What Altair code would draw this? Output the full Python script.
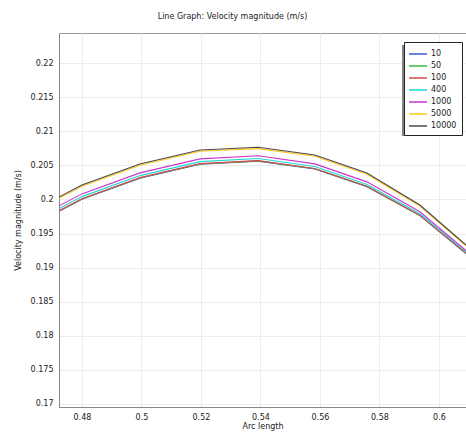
import altair as alt
import pandas as pd

# Arc-length sample positions along the cut line
arc = [0.4723, 0.48, 0.4995, 0.5197, 0.5392, 0.5583, 0.5758, 0.5936, 0.6091]

# Velocity magnitude (m/s) for each parameter value
v_10 = [0.19825, 0.20003, 0.20311, 0.20516, 0.20561, 0.20446, 0.20186, 0.19762, 0.19207]
v_50 = [0.19830, 0.20007, 0.20315, 0.20520, 0.20565, 0.20450, 0.20190, 0.19765, 0.19210]
v_100 = [0.19835, 0.20011, 0.20319, 0.20524, 0.20569, 0.20454, 0.20193, 0.19768, 0.19213]
v_400 = [0.19865, 0.20041, 0.20349, 0.20554, 0.20599, 0.20482, 0.20220, 0.19790, 0.19230]
v_1000 = [0.19905, 0.20081, 0.20389, 0.20594, 0.20639, 0.20521, 0.20257, 0.19818, 0.19251]
v_5000 = [0.20015, 0.20192, 0.20500, 0.20705, 0.20745, 0.20633, 0.20370, 0.19903, 0.19318]
v_10000 = [0.20035, 0.20211, 0.20519, 0.20724, 0.20764, 0.20651, 0.20387, 0.19918, 0.19331]

series_names = ["10", "50", "100", "400", "1000", "5000", "10000"]
series_values = [v_10, v_50, v_100, v_400, v_1000, v_5000, v_10000]
series_colors = ["#3a5ad8", "#3cb83c", "#d84a4a", "#1ed8d8", "#cc33cc", "#ffc61a", "#4a4a4a"]

x_ticks = [0.48, 0.50, 0.52, 0.54, 0.56, 0.58, 0.60]
y_ticks = [0.17, 0.175, 0.18, 0.185, 0.19, 0.195, 0.20, 0.205, 0.21, 0.215, 0.22]

rows = []
for order, (name, vals) in enumerate(zip(series_names, series_values)):
    for a, v in zip(arc, vals):
        rows.append({"arc": a, "vel": v, "series": name, "order": order})
df = pd.DataFrame(rows)

FONT = "DejaVu Sans"

x_enc = alt.X(
    "arc:Q",
    scale=alt.Scale(domain=[0.4723, 0.6091], nice=False, zero=False),
    axis=alt.Axis(values=x_ticks, format=".2~f", title="Arc length", ticks=False,
                  labelPadding=6, titlePadding=1),
)
y_enc = alt.Y(
    "vel:Q",
    scale=alt.Scale(domain=[0.16956, 0.2244], nice=False, zero=False),
    axis=alt.Axis(values=y_ticks, format=".3~f", title="Velocity magnitude (m/s)",
                  ticks=False, labelPadding=6, titlePadding=8),
)

lines = alt.Chart(df).mark_line(strokeWidth=1.1, clip=True).encode(
    x=x_enc,
    y=y_enc,
    color=alt.Color(
        "series:N",
        sort=series_names,
        scale=alt.Scale(domain=series_names, range=series_colors),
        legend=alt.Legend(
            title=None,
            orient="none",
            legendX=345,
            legendY=9,
            # long horizontal line swatch inside a short entry
            symbolType="M-1.5,0H1.5",
            symbolSize=144,
            symbolStrokeWidth=1.5,
            symbolOffset=2,
            rowPadding=1,
            labelFontSize=8,
            labelFont=FONT,
            labelColor="#222",
            padding=5,
            strokeColor="#222",
            fillColor="white",
            labelOffset=6,
        ),
    ),
    order=alt.Order("order:Q"),
)

# drop shadow behind the legend box
shadow = alt.Chart(pd.DataFrame({"k": [0]})).mark_rect(color="#777", opacity=0.9).encode(
    x=alt.value(343), x2=alt.value(400), y=alt.value(12), y2=alt.value(103)
)

chart = (
    alt.layer(shadow, lines)
    .properties(
        width=407,
        height=374,
        title=alt.TitleParams("Line Graph: Velocity magnitude (m/s)", fontSize=8,
                              font=FONT, fontWeight="normal", color="#222", offset=12,
                              dx=-30),
        autosize=alt.AutoSizeParams(type="none"),
        padding={"left": 59, "top": 33, "right": 0, "bottom": 26},
    )
    .configure_view(stroke="#999", strokeWidth=1)
    .configure_axis(
        grid=True,
        gridColor="#ececec",
        domainColor="#888",
        labelFont=FONT,
        titleFont=FONT,
        labelFontSize=8,
        titleFontSize=8,
        labelColor="#222",
        titleColor="#222",
        titleFontWeight="normal",
    )
)

chart.save("out.html", embed_options={"renderer": "svg", "actions": False})
